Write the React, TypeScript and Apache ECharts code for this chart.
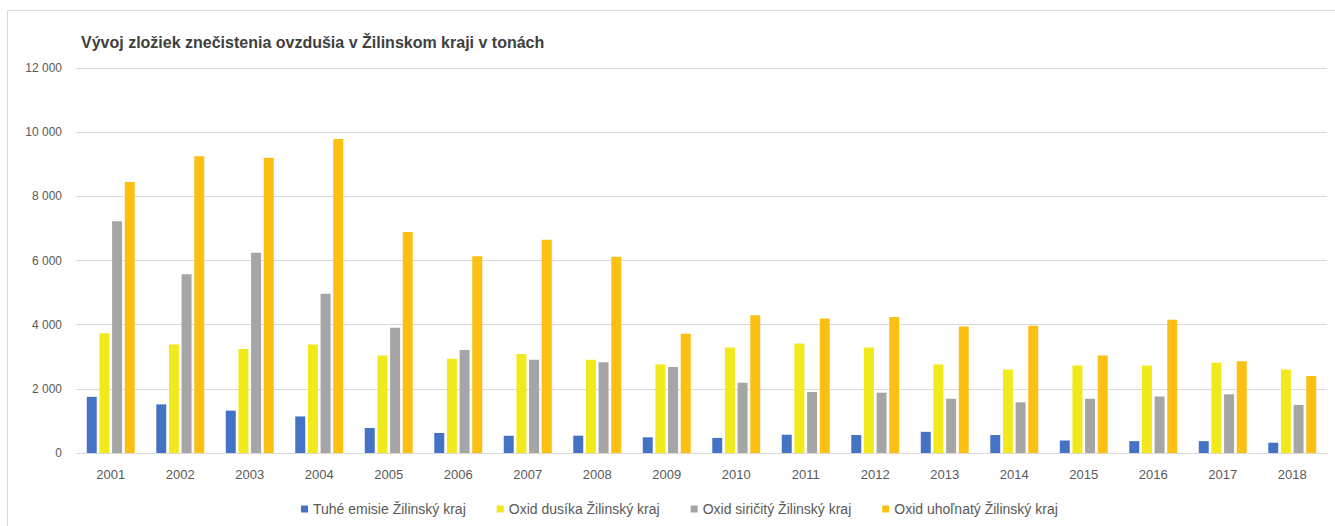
import React, { useEffect, useRef } from "react";
import * as echarts from "echarts";

const years = ["2001","2002","2003","2004","2005","2006","2007","2008","2009","2010","2011","2012","2013","2014","2015","2016","2017","2018"];
const tuheEmisie = [1750, 1515, 1320, 1140, 780, 625, 540, 540, 490, 470, 570, 560, 660, 560, 390, 370, 370, 320];
const oxidDusika = [3730, 3385, 3240, 3385, 3040, 2935, 3085, 2910, 2755, 3290, 3415, 3290, 2760, 2600, 2730, 2730, 2810, 2600];
const oxidSiricity = [7225, 5575, 6240, 4960, 3905, 3210, 2910, 2825, 2680, 2190, 1900, 1880, 1690, 1580, 1690, 1760, 1830, 1500];
const oxidUholnaty = [8450, 9250, 9200, 9790, 6885, 6135, 6645, 6115, 3720, 4290, 4190, 4240, 3940, 3970, 3040, 4150, 2860, 2400];
const seriesNames = ["Tuhé emisie Žilinský kraj", "Oxid dusíka Žilinský kraj", "Oxid siričitý Žilinský kraj", "Oxid uhoľnatý Žilinský kraj"];
const colors = ["#4472C4", "#F1E91B", "#A5A5A5", "#FBC012"];
const title = "Vývoj zložiek znečistenia ovzdušia v Žilinskom kraji v tonách";

export default function App() {
  const ref = useRef<HTMLDivElement>(null);
  useEffect(() => {
    if (!ref.current) return;
    const chart = echarts.init(ref.current, undefined, { renderer: "svg" });
    const data = [tuheEmisie, oxidDusika, oxidSiricity, oxidUholnaty];
    const font = "Liberation Sans, Arial, sans-serif";
    chart.setOption({
      animation: false,
      backgroundColor: "#ffffff",
      textStyle: { fontFamily: font },
      title: {
        text: title,
        left: 76,
        top: 29,
        textStyle: { fontFamily: font, fontSize: 16, fontWeight: "bold", color: "#404040" },
      },
      graphic: [
        {
          type: "rect",
          shape: { x: 7.5, y: 10.5, width: 1400, height: 600 },
          style: { fill: "none", stroke: "#D9D9D9", lineWidth: 1 },
          silent: true,
          z: -1,
        },
      ],
      legend: {
        left: 296,
        top: 497,
        itemWidth: 7,
        itemHeight: 7,
        itemGap: 31,
        icon: "rect",
        textStyle: { fontFamily: font, fontSize: 14, color: "#595959" },
        data: seriesNames,
      },
      grid: { left: 76, right: 8, top: 68, bottom: 73, containLabel: false },
      xAxis: {
        type: "category",
        data: years,
        axisLine: { show: true, lineStyle: { color: "#D9D9D9", width: 1 } },
        axisTick: { show: false },
        axisLabel: { margin: 15, fontFamily: font, fontSize: 13, color: "#595959" },
      },
      yAxis: {
        type: "value",
        min: 0,
        max: 12000,
        interval: 2000,
        axisLine: { show: false },
        axisTick: { show: false },
        splitLine: { lineStyle: { color: "#D9D9D9", width: 1 } },
        axisLabel: {
          margin: 14,
          fontFamily: font,
          fontSize: 12,
          color: "#595959",
          formatter: (v: number) => (v >= 1000 ? Math.floor(v / 1000) + " " + String(v % 1000).padStart(3, "0") : String(v)),
        },
      },
      series: seriesNames.map((name, i) => ({
        name,
        type: "bar",
        data: data[i],
        barGap: "27%",
        barCategoryGap: "31%",
        itemStyle: { color: colors[i] },
      })),
    });
    return () => chart.dispose();
  }, []);
  return <div ref={ref} style={{ position: "fixed", left: 0, top: 0, width: 1335, height: 526 }} />;
}
